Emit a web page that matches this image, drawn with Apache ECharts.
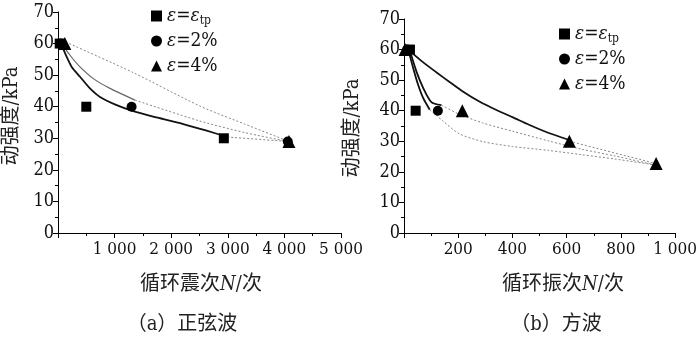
<!DOCTYPE html>
<html>
<head>
<meta charset="utf-8">
<script src="https://cdn.jsdelivr.net/npm/echarts@6/dist/echarts.min.js"></script>
<style>
  html, body { margin: 0; padding: 0; background: #fff; }
  #chart { width: 700px; height: 337px; }
</style>
</head>
<body>
<div id="chart"></div>
<script>
// (a) sine wave - measured points
const sinTp = [[30, 60], [500, 40], [2930, 30]]
const sin2 = [[50, 60], [1300, 40], [4060, 29]]
const sin4 = [[120, 60], [4080, 29]]
// (a) fitted curves
const sinFitTp = [[65, 59.5], [153, 55.8], [242, 52.6], [389, 49.5], [565, 45.8], [742, 43.1],
  [1037, 40.5], [1330, 38.6], [1744, 36.6], [2214, 34.5], [2627, 32.4], [2920, 30.8]]
const sinFit2 = [[65, 60], [212, 56.3], [389, 52.6], [624, 48.9], [919, 45.8], [1360, 42.1]]
const sinDotTp = [[2920, 30.5], [4060, 29]]
const sinDot2 = [[1360, 42.1], [2500, 35.5], [3300, 31.8], [4060, 29]]
const sinDot4 = [[136, 60.5], [1330, 50.8], [2509, 40.2], [3300, 34.5], [4080, 29]]

// (b) square wave - measured points
const sqTp = [[22, 60], [43, 40]]
const sq2 = [[12, 60], [125, 40]]
const sq4 = [[4, 60], [215, 40], [610, 30], [930, 22.7]]
// (b) fitted curves
const sqFitTp = [[16, 59.9], [34, 53.9], [52, 48.5], [71, 44.1], [95, 40.3]]
const sqFit2 = [[22, 59.5], [46, 52.8], [71, 47.4], [101, 42.8], [138, 41.8]]
const sqFit4 = [[22, 59.5], [71, 55.8], [119, 52.6], [168, 49.4], [217, 46.3], [278, 43],
  [339, 40.3], [400, 37.9], [461, 35.4], [534, 32.7], [607, 30.5]]
const sqDotTp = [[95, 40.3], [144, 36.6], [205, 32.4], [290, 29.9], [400, 28.3], [534, 27],
  [656, 25.6], [778, 24.2], [924, 22.3]]
const sqDot2 = [[138, 41.8], [205, 38.8], [290, 36], [400, 33.3], [534, 30.1], [656, 27.4],
  [778, 25.2], [924, 22.3]]
const sqDot4 = [[610, 30], [930, 22.7]]

const yTicks = [0, 10, 20, 30, 40, 50, 60, 70]

const serif = 'DejaVu Serif Condensed'
const cjk = 'DejaVu Serif Condensed, Noto Sans CJK SC'

function thousands (v) {
  if (v === 0) return ''
  return String(v).replace(/\B(?=(\d{3})+(?!\d))/g, ' ')
}

function xAxisOf (gridIndex, max, interval) {
  return {
    type: 'value',
    gridIndex: gridIndex,
    min: 0,
    max: max,
    interval: interval,
    splitLine: { show: false },
    axisLine: { show: true, lineStyle: { color: '#000', width: 1 } },
    axisTick: { show: true, length: 5, lineStyle: { color: '#000' } },
    minorTick: { show: true, splitNumber: 2, length: 3, lineStyle: { color: '#000' } },
    axisLabel: {
      color: '#111',
      fontFamily: serif,
      fontSize: 17,
      margin: 8,
      formatter: thousands
    }
  }
}

function yAxisOf (gridIndex) {
  return {
    type: 'value',
    gridIndex: gridIndex,
    min: yTicks[0],
    max: yTicks[yTicks.length - 1],
    interval: 10,
    splitLine: { show: false },
    axisLine: { show: true, lineStyle: { color: '#000', width: 1 } },
    axisTick: { show: true, length: 5, lineStyle: { color: '#000' } },
    minorTick: { show: true, splitNumber: 2, length: 3, lineStyle: { color: '#000' } },
    axisLabel: {
      color: '#111',
      fontFamily: serif,
      fontSize: 18,
      margin: 4
    }
  }
}

function dots (name, data, symbol, size, idx) {
  return {
    name: name,
    type: 'scatter',
    xAxisIndex: idx,
    yAxisIndex: idx,
    data: data,
    symbol: symbol,
    symbolSize: size,
    itemStyle: { color: '#000', opacity: 1 },
    z: 5
  }
}

function curve (data, idx, kind) {
  let style = { color: '#111', width: 1.8, type: 'solid' }
  if (kind === 'gray') style = { color: '#666', width: 1.2, type: 'solid' }
  if (kind === 'dot') style = { color: '#888', width: 1, type: [2, 2] }
  return {
    name: 'fit',
    type: 'line',
    xAxisIndex: idx,
    yAxisIndex: idx,
    data: data,
    smooth: 0.25,
    showSymbol: false,
    symbol: 'none',
    lineStyle: style,
    z: 3
  }
}

const legendRich = {
  e: { fontStyle: 'italic', fontFamily: serif, fontSize: 19, lineHeight: 22 },
  n: { fontFamily: serif, fontSize: 19, lineHeight: 22 },
  s: { fontFamily: serif, fontSize: 12, lineHeight: 22, padding: [9, 0, 0, 0] }
}

function legendText (name) {
  if (name === 'tp') return '{e|ε}{n|=}{e|ε}{s|tp}'
  if (name === 'p2') return '{e|ε}{n|=2%}'
  return '{e|ε}{n|=4%}'
}

function legendOf (left, top) {
  return {
    left: left,
    top: top,
    orient: 'vertical',
    itemWidth: 11,
    itemHeight: 11,
    itemGap: 3,
    selectedMode: false,
    data: [
      { name: 'tp', icon: 'rect' },
      { name: 'p2', icon: 'circle' },
      { name: 'p4', icon: 'triangle' }
    ],
    formatter: legendText,
    textStyle: { fontFamily: serif, fontSize: 19, color: '#111', lineHeight: 22, rich: legendRich }
  }
}

function label (x, y, text, rotate) {
  return {
    type: 'text',
    x: x,
    y: y,
    rotation: rotate ? Math.PI / 2 : 0,
    style: {
      text: text,
      fill: '#222',
      fontSize: 20,
      fontFamily: cjk,
      align: 'center',
      verticalAlign: 'middle',
      rich: {
        i: { fontStyle: 'italic', fontFamily: serif, fontSize: 20 }
      }
    }
  }
}

const chart = echarts.init(document.getElementById('chart'))
const option = {
  animation: false,
  backgroundColor: '#fff',
  grid: [
    { left: 58, right: 359, top: 12, bottom: 104 },
    { left: 404, right: 23, top: 19, bottom: 104 }
  ],
  xAxis: [xAxisOf(0, 5000, 1000), xAxisOf(1, 1000, 200)],
  yAxis: [yAxisOf(0), yAxisOf(1)],
  legend: [legendOf(146, 0), legendOf(554, 18)],
  graphic: [
    label(12, 116, '动强度/kPa', true),
    label(353, 128, '动强度/kPa', true),
    label(201, 285, '循环震次{i|N}/次'),
    label(563, 285, '循环振次{i|N}/次'),
    label(182, 325, '（a）正弦波'),
    label(556, 325, '（b）方波')
  ],
  series: [
    curve(sinFitTp, 0, 'solid'),
    curve(sinFit2, 0, 'gray'),
    curve(sinDotTp, 0, 'dot'),
    curve(sinDot2, 0, 'dot'),
    curve(sinDot4, 0, 'dot'),
    dots('tp', sinTp, 'rect', 10, 0),
    dots('p2', sin2, 'circle', 10, 0),
    dots('p4', sin4, 'triangle', 13, 0),
    curve(sqFitTp, 1, 'solid'),
    curve(sqFit2, 1, 'solid'),
    curve(sqFit4, 1, 'solid'),
    curve(sqDotTp, 1, 'dot'),
    curve(sqDot2, 1, 'dot'),
    curve(sqDot4, 1, 'dot'),
    dots('tp', sqTp, 'rect', 10, 1),
    dots('p2', sq2, 'circle', 10, 1),
    dots('p4', sq4, 'triangle', 13, 1)
  ]
}
chart.setOption(option)
</script>
</body>
</html>
